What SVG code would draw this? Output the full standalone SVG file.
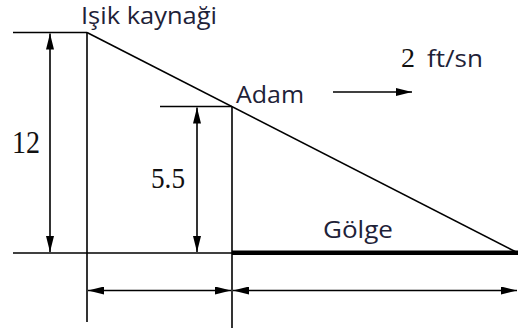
<svg xmlns="http://www.w3.org/2000/svg" width="518" height="331" viewBox="0 0 518 331">
<defs>
<style>
.ln{stroke:#000;stroke-width:1.6;fill:none}
.dim{stroke:#000;stroke-width:1.6;fill:none;marker-start:url(#a0);marker-end:url(#a1)}
.sans{font-family:"Open Sans","Liberation Sans",sans-serif;fill:#1e2238}
.num{font-family:"Liberation Serif",serif;fill:#111}
</style>
<marker id="a1" viewBox="0 0 16 8" refX="16" refY="4" markerWidth="16" markerHeight="8" markerUnits="userSpaceOnUse" orient="auto">
<path d="M0,0 L16,4 L0,8 Z" fill="#000"/>
</marker>
<marker id="a0" viewBox="0 0 16 8" refX="0" refY="4" markerWidth="16" markerHeight="8" markerUnits="userSpaceOnUse" orient="auto">
<path d="M16,0 L0,4 L16,8 Z" fill="#000"/>
</marker>
</defs>
<g id="connectors">
<line class="ln" x1="13" y1="32.5" x2="87" y2="32.5"/>
<line class="ln" x1="87" y1="32.5" x2="87" y2="322"/>
<line class="ln" x1="87" y1="32.5" x2="517" y2="252.5"/>
<line class="ln" x1="13" y1="253" x2="232" y2="253"/>
<line class="ln" x1="160" y1="106.5" x2="232" y2="106.5"/>
<line class="ln" x1="232" y1="106.5" x2="232" y2="328"/>
<line stroke="#000" stroke-width="4.5" x1="232" y1="252.8" x2="518" y2="252.8"/>
<line class="dim" x1="50" y1="33.5" x2="50" y2="252"/>
<line class="dim" x1="197" y1="107.5" x2="197" y2="252"/>
<line class="dim" x1="88" y1="290.5" x2="231" y2="290.5"/>
<line class="dim" x1="233" y1="290.5" x2="517" y2="290.5"/>
<line class="ln" x1="333" y1="92" x2="412" y2="92" marker-end="url(#a1)"/>
</g>
<g id="light">
<text class="sans" x="81" y="24" font-size="23" textLength="136" lengthAdjust="spacingAndGlyphs">Işik kaynaği</text>
</g>
<g id="adam">
<text class="sans" x="236" y="103" font-size="24" textLength="68" lengthAdjust="spacingAndGlyphs">Adam</text>
</g>
<g id="shadow">
<text class="sans" x="323" y="238" font-size="23" textLength="70" lengthAdjust="spacingAndGlyphs">Gölge</text>
</g>
<g id="speed">
<text class="num" x="401" y="67" font-size="27" textLength="14" lengthAdjust="spacingAndGlyphs">2</text>
<text class="sans" x="427" y="67" font-size="24" textLength="56" lengthAdjust="spacingAndGlyphs">ft/sn</text>
</g>
<g id="h12">
<text class="num" x="12" y="153" font-size="31" textLength="28" lengthAdjust="spacingAndGlyphs">12</text>
</g>
<g id="h55">
<text class="num" x="151" y="188" font-size="29" textLength="34" lengthAdjust="spacingAndGlyphs">5.5</text>
</g>
</svg>
